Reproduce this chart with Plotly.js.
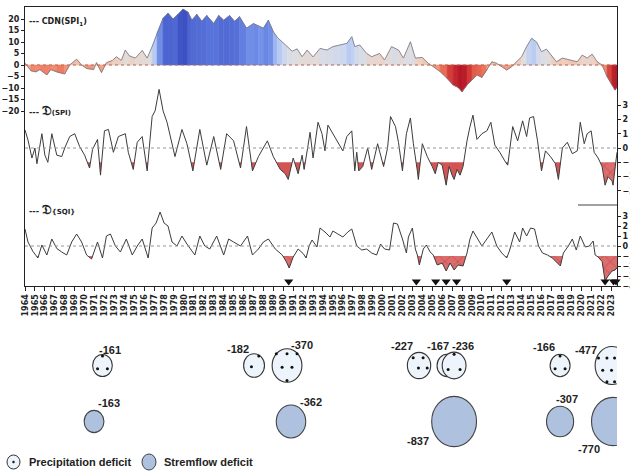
<!DOCTYPE html>
<html><head><meta charset="utf-8">
<script src="https://cdn.plot.ly/plotly-3.0.1.min.js"></script>
<style>html,body{margin:0;padding:0;background:#fff}#chart{width:630px;height:472px}</style>
</head><body><div id="chart"></div>
<script>
// ---------------- DATA ----------------
const cdnYears = [1964.0,1964.6,1965.1,1965.5,1966.2,1966.6,1967.2,1968.0,1968.5,1969.2,1969.7,1970.2,1970.9,1971.2,1971.7,1972.2,1972.8,1973.2,1973.7,1974.1,1974.5,1975.1,1975.8,1976.3,1976.8,1977.3,1977.9,1978.4,1978.9,1979.4,1979.9,1980.4,1980.8,1981.3,1981.8,1982.3,1983.0,1983.5,1984.0,1984.6,1985.1,1985.6,1986.3,1987.0,1987.5,1988.0,1988.5,1989.0,1989.4,1989.9,1990.4,1990.9,1991.4,1991.9,1992.4,1993.0,1993.7,1994.4,1995.0,1995.7,1996.4,1996.9,1997.2,1997.7,1998.4,1998.9,1999.7,2000.2,2000.9,2001.6,2002.1,2002.8,2003.3,2004.0,2004.6,2005.1,2005.8,2006.5,2007.1,2007.6,2008.0,2008.5,2009.0,2009.5,2010.0,2010.5,2011.0,2011.5,2012.0,2012.5,2013.0,2013.5,2014.0,2014.5,2015.0,2015.5,2016.0,2016.5,2017.0,2017.5,2018.1,2018.8,2019.6,2020.1,2020.6,2021.1,2021.6,2022.1,2022.6,2023.1,2023.4,2023.6];
const cdnValues = [0.8,-2.5,-3.0,-2.0,-4.3,-2.0,-3.0,-3.9,0,2.5,0,-1.5,-2.0,1.0,-3.3,1.0,2.0,3.6,2.0,6.5,4.0,3.0,6.3,3.0,8.0,14.0,20.3,22.5,20.0,22.0,24.3,23.0,19.5,22.0,19.0,21.5,18.0,21.5,19.5,21.5,19.0,21.0,16.0,18.0,17.0,16.0,19.5,14.5,12.0,10.0,8.0,6.0,7.0,3.6,6.5,3.5,7.2,6.5,8.0,8.7,9.4,12.3,8.0,8.7,5.0,3.6,5.0,2.2,8.0,6.5,3.0,10.1,3.0,3.3,0.7,-0.7,-2.9,-5.8,-8.7,-9.7,-11.6,-8.7,-6.5,-4.3,-5.4,-2.2,1.4,0.7,-0.7,-2.2,-0.7,1.4,3.6,8.0,11.6,10.0,5.8,6.9,4.3,1.4,3.0,2.2,1.4,4.3,3.0,4.7,1.4,0,-5.0,-8.7,-10.9,-9.7];

const spiYears = [1964.0,1964.3,1964.7,1965.0,1965.2,1965.7,1966.0,1966.3,1966.7,1967.2,1967.7,1968.0,1968.5,1969.0,1969.5,1970.0,1970.5,1970.8,1971.3,1971.6,1972.0,1972.4,1972.9,1973.4,1974.1,1974.4,1974.9,1975.3,1975.8,1976.3,1976.8,1977.1,1977.5,1977.9,1978.3,1978.8,1979.1,1979.8,1980.3,1980.9,1981.6,1982.3,1983.0,1983.7,1984.3,1985.0,1985.7,1986.3,1986.9,1987.5,1988.4,1989.0,1989.7,1990.2,1990.5,1991.0,1991.5,1991.9,1992.1,1992.5,1992.7,1993.0,1993.5,1993.9,1994.2,1994.5,1995.0,1995.5,1996.0,1996.4,1996.9,1997.2,1997.4,1997.6,1998.0,1998.5,1998.9,1999.5,2000.1,2000.5,2000.8,2001.3,2001.6,2002.0,2002.4,2002.8,2003.1,2003.5,2003.6,2004.0,2004.5,2005.0,2005.3,2005.6,2006.0,2006.4,2006.7,2007.0,2007.2,2007.5,2007.8,2008.1,2008.5,2008.8,2009.1,2009.5,2010.0,2010.5,2010.9,2011.3,2011.8,2012.3,2012.6,2013.1,2013.6,2014.1,2014.5,2014.8,2015.2,2015.6,2016.0,2016.4,2016.9,2017.4,2017.7,2018.1,2018.6,2019.1,2019.6,2019.9,2020.3,2020.6,2021.0,2021.3,2021.7,2022.1,2022.4,2022.7,2023.1,2023.2,2023.6];
const spiValues = [1.26,0.56,-0.7,0,-1.1,1.0,-0.5,-1.0,1.0,-0.5,-0.6,0,0.8,1.0,0.1,-0.5,-1.4,-0.1,0.6,-1.9,1.2,1.3,-0.3,0.8,1.0,-0.3,-1.5,0.4,0.8,-1.6,2.2,2.6,4.1,2.6,1.8,0.3,-0.6,1.3,0.3,-1.6,1.3,-1.2,0.8,-1.5,1.0,0.5,-1.4,1.5,-1.6,-0.6,0.5,-0.6,-1.5,-1.8,-2.2,-0.7,-1.8,-0.5,-1.5,0.2,1.1,-0.7,1.8,1.0,-0.2,1.6,1.0,0.5,-0.2,0.8,1.2,-1.6,-0.3,-1.6,-1.3,0,-1.5,0.3,-1.3,0,2.2,1.5,0.4,-1.6,1.0,2.1,0.3,-1.6,-2.2,0.3,-0.6,-1.3,-1.8,-1.0,-1.2,-2.6,-1.3,-1.9,-2.2,-1.5,-1.9,-1.3,0.5,1.5,2.3,0.6,1.0,1.2,1.8,0.2,-0.3,-0.9,-1.2,1.5,0.5,1.9,0.8,2.1,2.2,0.5,-1.6,-0.2,-0.6,-1.1,-2.2,0,0.4,-0.4,-0.2,1.8,0.3,1.0,1.2,-0.3,-0.7,-1.3,-2.6,-2.0,-2.3,-2.6,-0.3];

const sqiYears = [1964.0,1964.3,1964.8,1965.3,1965.7,1966.2,1966.7,1967.2,1967.7,1968.2,1968.7,1969.2,1969.7,1970.2,1970.7,1971.3,1971.8,1972.2,1972.6,1973.1,1973.6,1974.2,1974.8,1975.3,1975.8,1976.4,1976.8,1977.2,1977.6,1978.0,1978.4,1978.8,1979.3,1979.8,1980.3,1981.1,1981.6,1982.1,1982.6,1983.3,1984.0,1984.5,1985.0,1985.7,1986.4,1986.9,1987.5,1988.0,1988.5,1989.2,1989.9,1990.3,1990.6,1991.0,1991.5,1992.0,1992.3,1992.6,1992.9,1993.4,1993.7,1994.2,1994.7,1995.0,1995.5,1996.0,1996.5,1996.9,1997.4,1997.9,1998.4,1998.9,1999.4,1999.8,2000.2,2000.7,2001.1,2001.5,2002.0,2002.4,2002.6,2003.0,2003.3,2003.5,2003.7,2004.1,2004.4,2004.8,2005.1,2005.5,2006.0,2006.4,2006.8,2007.2,2007.6,2008.1,2008.5,2008.8,2009.1,2009.6,2010.0,2010.5,2011.0,2011.5,2012.0,2012.5,2012.8,2013.3,2013.8,2014.1,2014.5,2014.9,2015.3,2015.7,2016.1,2016.6,2017.1,2017.6,2017.9,2018.2,2018.7,2019.1,2019.5,2019.9,2020.4,2020.8,2021.2,2021.4,2021.7,2022.1,2022.4,2022.7,2023.1,2023.4,2023.6];
const sqiValues = [1.7,0.4,-0.55,-1.2,0.1,-0.9,0.7,-0.25,-0.6,-0.9,0.4,1.2,0.4,-0.9,-1.3,0.4,-1.2,1.0,1.2,0,-0.6,0.7,-0.9,0,0.7,-1.2,1.8,2.3,3.4,2.3,2.0,0.4,0,1.0,0.2,-0.9,1.0,0,-0.3,1.0,-0.9,0.7,0.4,0,1.0,-0.9,-0.3,0.4,0.7,-0.3,-0.9,-1.55,-2.2,-1.1,-0.3,-0.75,-1.2,0,0.6,-0.1,1.8,1.4,0.9,1.5,1.2,0.9,1.4,1.7,0,-0.4,-0.3,-0.7,-0.9,0.2,-0.3,-0.4,2.3,2.2,0.7,-0.7,0.9,1.8,-0.3,-0.9,-1.9,-0.3,0.1,-0.6,-0.9,-1.9,-1.7,-2.5,-1.7,-2.4,-1.9,-2.0,-0.7,0.7,1.5,0.7,0,0.7,1.4,0,-0.7,-1.2,-0.4,1.4,0.4,1.8,1.0,1.8,1.7,0,-0.7,-0.9,-1.2,-1.7,-2.0,-0.7,0,0.7,-0.4,1.0,-0.1,0,0.5,-0.9,-1.1,-1.55,-3.5,-3.0,-2.5,-2.4,-2.2];

const droughtOnsetYears = [1990.55,2003.4,2005.35,2006.4,2007.45,2012.5,2022.4,2023.25,2023.5];

const yearTicks = [1964,1965,1966,1967,1968,1969,1970,1971,1972,1973,1974,1975,1976,1977,1978,1979,1980,1981,1982,1983,1984,1985,1986,1987,1988,1989,1990,1991,1992,1993,1994,1995,1996,1997,1998,1999,2000,2001,2002,2003,2004,2005,2006,2007,2008,2009,2010,2011,2012,2013,2014,2015,2016,2017,2018,2019,2020,2021,2022,2023];
const yearLabels = ['1964','1965','1966','1967','1968','1969','1970','1971','1972','1973','1974','1975','1976','1977','1978','1979','1980','1981','1982','1983','1984','1985','1986','1987','1988','1989','1990','1991','1992','1993','1994','1995','1996','1997','1998','1999','2000','2001','2002','2003','2004','2005','2006','2007','2008','2009','2010','2011','2012','2013','2014','2015','2016','2017','2018','2019','2020','2021','2022','2023'];
const cdnTicks = [-20,-15,-10,-5,0,5,10,15,20];
const spiTicks = [-3,-2,-1,0,1,2,3];
const sqiTicks = [-4,-3,-2,-1,0,1,2,3];

const precipEventYears = [1971.8,1987.06,1990.38,2003.67,2006.49,2007.2,2017.87,2023.1];
const precipDeficits = [-161,-182,-370,-227,-167,-236,-166,-477];
const precipDotCounts = [3,2,6,4,0,3,3,7];
const streamEventYears = [1970.95,1990.78,2007.2,2017.87,2023.2];
const streamDeficits = [-163,-362,-837,-307,-770];

// ---------------- LAYOUT GEOMETRY / STYLE ----------------
const W = 630, H = 472, ML = 25, MR = 13, MT = 7, MB = 0;
const PW = W - ML - MR, PH = H - MT - MB;
const X0 = 1964, X1 = 2023.6;
const PXY = PW / (X1 - X0);
const mainBottomPx = 286;
const mainDomain = [(H - MB - mainBottomPx) / PH, 1];
const pxX = px => (px - ML) / PW;
const pxY = py => (H - MB - py) / PH;
const precipRowY = 365.5, streamRowY = 421.5;
// label offsets (px) from bubble centre
const precipLabelOffsets = [[8,-16],[-16,-17],[15,-21],[-17,-20],[-9,-20],[9,-20],[-16,-19],[-26,-16]];
const streamLabelOffsets = [[15,-19],[20,-20],[-36,19],[7,-23],[-24,27]];
const dotPatterns = {
  0: [],
  2: [[0.45,-0.8],[-0.25,0.1]],
  3: [[0,-0.85],[-0.5,0.3],[0.5,0.3]],
  4: [[-0.5,-0.6],[0.35,-0.6],[-0.05,0.2],[0.7,0.2]],
  6: [[-0.72,-0.7],[0,-0.7],[0.67,-0.7],[-0.33,0.1],[0.33,0.1],[0,0.9]],
  7: [[-0.8,-0.4],[-0.3,-0.4],[0.15,-0.4],[-0.55,0.25],[-0.03,0.25],[-0.3,0.85],[0.15,0.85]]
};

const cmapStops = [[-12,[170,10,35]],[-8,[205,50,50]],[-4,[236,115,88]],[0,[245,178,152]],[3,[238,208,194]],[6,[222,222,224]],[9,[206,215,238]],[12,[172,196,245]],[16,[122,152,236]],[20,[86,112,216]],[24,[58,78,192]]];
function cmap(v){
  if (v <= cmapStops[0][0]) return 'rgb(' + cmapStops[0][1].join(',') + ')';
  for (let i = 1; i < cmapStops.length; i++) {
    if (v <= cmapStops[i][0]) {
      const [a, ca] = cmapStops[i-1], [b, cb] = cmapStops[i];
      const t = (v - a) / (b - a);
      return 'rgb(' + ca.map((c, k) => Math.round(c + t * (cb[k] - c))).join(',') + ')';
    }
  }
  return 'rgb(' + cmapStops[cmapStops.length-1][1].join(',') + ')';
}

const tickFont = {family: 'DejaVu Sans, sans-serif', size: 8, color: '#222', weight: 'bold'};
const traces = [];

// CDN coloured area (segment by segment)
for (let i = 0; i < cdnYears.length - 1; i++) {
  const xa = cdnYears[i], xb = cdnYears[i+1], va = cdnValues[i], vb = cdnValues[i+1];
  const c = cmap((va + vb) / 2);
  traces.push({x: [xa, xa, xb, xb, xa], y: [0, va, vb, 0, 0], xaxis: 'x', yaxis: 'y', mode: 'lines',
    fill: 'toself', fillcolor: c, line: {width: 0.6, color: c}, hoverinfo: 'skip', showlegend: false});
}
traces.push({x: cdnYears, y: cdnValues, xaxis: 'x', yaxis: 'y', mode: 'lines',
  line: {color: 'rgb(115,115,128)', width: 0.8}, hoverinfo: 'skip', showlegend: false});

function belowFill(xs, ys, thr, from, to) {
  const fx = [], fy = [];
  for (let i = 0; i < xs.length; i++) {
    if (i > 0) {
      const a = ys[i-1], b = ys[i];
      if ((a - thr) * (b - thr) < 0) {
        const t = (thr - a) / (b - a);
        const cx = xs[i-1] + t * (xs[i] - xs[i-1]);
        if (cx >= from && cx <= to) { fx.push(cx); fy.push(thr); }
      }
    }
    if (xs[i] >= from && xs[i] <= to) { fx.push(xs[i]); fy.push(Math.min(ys[i], thr)); }
  }
  return {fx, fy};
}
function addFill(xs, ys, yaxis, from, to, pattern) {
  const f = belowFill(xs, ys, -1, from, to);
  traces.push({x: f.fx, y: f.fx.map(() => -1), xaxis: 'x', yaxis: yaxis, mode: 'lines', line: {width: 0},
    hoverinfo: 'skip', showlegend: false});
  const col = pattern ? 'rgba(218,92,92,0.9)' : 'rgba(205,60,60,0.88)';
  const tr = {x: f.fx, y: f.fy, xaxis: 'x', yaxis: yaxis, mode: 'lines', line: {width: 0},
    fill: 'tonexty', fillcolor: col, hoverinfo: 'skip', showlegend: false};
  if (pattern) tr.fillpattern = {shape: 'x', bgcolor: col, fgcolor: 'rgba(150,35,35,0.6)', size: 9, solidity: 0.12, fillmode: 'replace'};
  traces.push(tr);
}
// SPI
addFill(spiYears, spiValues, 'y2', X0, 2021.5, false);
addFill(spiYears, spiValues, 'y2', 2021.5, X1, true);
traces.push({x: spiYears, y: spiValues, xaxis: 'x', yaxis: 'y2', mode: 'lines',
  line: {color: 'rgb(60,60,60)', width: 1}, hoverinfo: 'skip', showlegend: false});
// SQI
addFill(sqiYears, sqiValues, 'y3', X0, X1, true);
traces.push({x: sqiYears, y: sqiValues, xaxis: 'x', yaxis: 'y3', mode: 'lines',
  line: {color: 'rgb(60,60,60)', width: 1}, hoverinfo: 'skip', showlegend: false});
traces.push({x: droughtOnsetYears, y: droughtOnsetYears.map(() => -3.55), xaxis: 'x', yaxis: 'y3', mode: 'markers',
  marker: {symbol: 'triangle-down', size: 8, color: '#111'}, cliponaxis: false, hoverinfo: 'skip', showlegend: false});

// bubbles
const shapes = [];
const annotations = [];
const dotX = [], dotY = [];
const bubbleFont = {family: 'Liberation Sans Narrow, Liberation Sans, Arial, sans-serif', size: 11, color: '#222', weight: 'bold'};
function bubble(yr, val, rowY, fill, lineColor, dots, off) {
  const s = Math.sqrt(Math.abs(val));
  const w = 1.55 * s, h = 1.74 * s;
  shapes.push({type: 'circle', xref: 'x2', yref: 'y4', layer: 'below',
    x0: yr - w / 2 / PXY, x1: yr + w / 2 / PXY, y0: rowY - h / 2, y1: rowY + h / 2,
    fillcolor: fill, line: {color: lineColor, width: 1.1}});
  (dotPatterns[dots] || []).forEach(p => { dotX.push(yr + p[0] * w / 2 / PXY); dotY.push(rowY + p[1] * h / 2); });
  annotations.push({xref: 'x2', yref: 'y4', x: yr + off[0] / PXY, y: rowY + off[1], text: String(val),
    showarrow: false, font: bubbleFont});
}
precipEventYears.forEach((yr, i) => bubble(yr, precipDeficits[i], precipRowY, 'rgb(238,244,252)', '#333', precipDotCounts[i], precipLabelOffsets[i]));
streamEventYears.forEach((yr, i) => bubble(yr, streamDeficits[i], streamRowY, 'rgb(174,193,222)', '#444', 0, streamLabelOffsets[i]));
traces.push({x: dotX, y: dotY, xaxis: 'x2', yaxis: 'y4', mode: 'markers', marker: {size: 3, color: '#111'},
  hoverinfo: 'skip', showlegend: false});

// zero lines
shapes.push({type: 'line', xref: 'paper', yref: 'y', x0: 0, x1: 1, y0: 0, y1: 0, line: {color: 'rgb(175,105,90)', width: 1.1, dash: 'dot'}});
shapes.push({type: 'line', xref: 'paper', yref: 'y2', x0: 0, x1: 1, y0: 0, y1: 0, line: {color: 'rgb(150,150,150)', width: 1, dash: 'dot'}});
shapes.push({type: 'line', xref: 'paper', yref: 'y3', x0: 0, x1: 1, y0: 0, y1: 0, line: {color: 'rgb(150,150,150)', width: 1, dash: 'dot'}});
// stub line near the right edge
shapes.push({type: 'line', xref: 'paper', yref: 'paper', x0: pxX(578), x1: 1, y0: pxY(205), y1: pxY(205), line: {color: '#444', width: 1.2}});
// legend icons
shapes.push({type: 'circle', xref: 'paper', yref: 'paper', x0: pxX(7), x1: pxX(20), y0: pxY(469), y1: pxY(455), fillcolor: 'rgb(238,244,252)', line: {color: '#333', width: 1}});
shapes.push({type: 'circle', xref: 'paper', yref: 'paper', x0: pxX(12.5), x1: pxX(14.5), y0: pxY(463), y1: pxY(461), fillcolor: '#111', line: {color: '#111', width: 0.5}});
shapes.push({type: 'circle', xref: 'paper', yref: 'paper', x0: pxX(142), x1: pxX(156), y0: pxY(470), y1: pxY(454), fillcolor: 'rgb(174,193,222)', line: {color: '#444', width: 1}});

const labFont = {family: 'Liberation Sans Narrow, Liberation Sans, Arial, sans-serif', size: 11, color: '#222', weight: 'bold'};
annotations.push({xref: 'paper', yref: 'paper', x: pxX(27), y: pxY(462), xanchor: 'left', yanchor: 'middle', text: 'Precipitation deficit', showarrow: false, font: labFont});
annotations.push({xref: 'paper', yref: 'paper', x: pxX(162), y: pxY(462), xanchor: 'left', yanchor: 'middle', text: 'Stremflow deficit', showarrow: false, font: labFont});

const panelFont = {family: 'DejaVu Sans, sans-serif', size: 8, color: '#222', weight: 'bold'};
annotations.push({xref: 'paper', yref: 'paper', x: pxX(27), y: pxY(22), xanchor: 'left', yanchor: 'middle', showarrow: false, font: panelFont,
  text: '--- CDN(SPI<sub>1</sub>)'});
annotations.push({xref: 'paper', yref: 'paper', x: pxX(27), y: pxY(111), xanchor: 'left', yanchor: 'middle', showarrow: false, font: panelFont,
  text: "--- <span style='font-size:13px;font-family:DejaVu Serif'>𝔇</span><span style='font-size:7px'>(SPI)</span>"});
annotations.push({xref: 'paper', yref: 'paper', x: pxX(27), y: pxY(209), xanchor: 'left', yanchor: 'middle', showarrow: false, font: panelFont,
  text: "--- <span style='font-size:13px;font-family:DejaVu Serif'>𝔇</span><span style='font-size:7px'>{SQI}</span>"});

const cdnRange = [-(mainBottomPx - 65) / 2.3, (65 - MT) / 2.3];
const spiRange = [-(mainBottomPx - 148) / 14.3, (148 - MT) / 14.3];
const sqiRange = [-4, (246 - MT) / 10];

const layout = {
  width: W, height: H, margin: {l: ML, r: MR, t: MT, b: MB},
  paper_bgcolor: '#fff', plot_bgcolor: 'rgba(0,0,0,0)', showlegend: false,
  xaxis: {domain: [0, 1], anchor: 'y', range: [X0, X1], showgrid: false, zeroline: false,
    showline: true, mirror: true, linecolor: '#222', linewidth: 1,
    ticks: 'outside', ticklen: 4, tickcolor: '#222', tickvals: yearTicks, ticktext: yearLabels,
    tickangle: -90, tickfont: tickFont},
  yaxis: {domain: mainDomain, anchor: 'x', range: cdnRange, showgrid: false, zeroline: false,
    showline: true, mirror: true, linecolor: '#222', linewidth: 1,
    ticks: 'outside', ticklen: 3, tickcolor: '#222', tickvals: cdnTicks, tickfont: tickFont},
  yaxis2: {overlaying: 'y', side: 'right', anchor: 'x', range: spiRange, showgrid: false, zeroline: false,
    showline: false, ticks: 'outside', ticklen: 3, tickcolor: '#222', tickvals: spiTicks, tickfont: tickFont},
  yaxis3: {overlaying: 'y', side: 'right', anchor: 'x', range: sqiRange, showgrid: false, zeroline: false,
    showline: false, ticks: 'outside', ticklen: 3, tickcolor: '#222', tickvals: sqiTicks, tickfont: tickFont},
  xaxis2: {domain: [0, 1], anchor: 'y4', range: [X0, X1], visible: false},
  yaxis4: {domain: [0, mainDomain[0]], anchor: 'x2', range: [H - MB, mainBottomPx], visible: false},
  shapes: shapes, annotations: annotations
};
Plotly.newPlot('chart', traces, layout, {staticPlot: true, displayModeBar: false});
</script>
</body></html>
